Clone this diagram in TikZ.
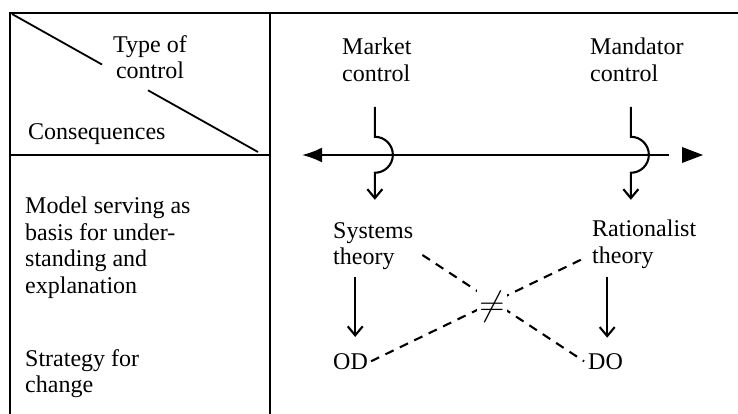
\documentclass[tikz,border=0pt]{standalone}
\usepackage{fontspec}
\setmainfont{Liberation Serif}
\usetikzlibrary{arrows.meta}
\begin{document}
\begin{tikzpicture}[x=1pt,y=1pt,
		rule/.style={line width=2.1pt},
		bump/.style={line width=2.1pt, -{Straight Barb[length=9pt,width=15pt,line width=2.1pt]}},
		down/.style={line width=2.1pt, -{Straight Barb[length=9pt,width=15pt,line width=2.1pt]}},
		cross/.style={line width=2.1pt, dash pattern=on 9pt off 7pt},
		label/.style={anchor=north west, align=left}]
		\tikzstyle{every node}=[font=\fontsize{24pt}{26.5pt}\selectfont, inner sep=0pt]
		\useasboundingbox (0,0) rectangle (738,-414);
		
		\draw[rule] (10,-414) -- (10,-13) -- (738,-13);
		\draw[rule] (270,-13) -- (270,-414);
		\draw[rule] (10,-155) -- (270,-155);
		\draw[line width=1.8pt] (12,-14) -- (102,-64.5);
		\draw[line width=1.8pt] (148,-90.3) -- (258,-152);
		
		\node[anchor=north, align=center] (typ) at (150,-35) {Type of\\control};
		\node[label] (conseq) at (28,-123) {Consequences};
		\node[label] (model) at (25,-197) {Model serving as\\basis for under-\\standing and\\explanation};
		\node[label] (strat) at (25,-349) {Strategy for\\change};
		
		\node[label] (market) at (342,-38) {Market\\control};
		\node[label] (mandat) at (590,-38) {Mandator\\control};
		\node[label] (sys) at (333,-222) {Systems\\theory};
		\node[label] (rat) at (592,-220) {Rationalist\\theory};
		\node[label] (od) at (333,-353) {OD};
		\node[label] (do) at (588,-353) {DO};
		
		\coordinate (lt) at (302,-155);
		\coordinate (rt) at (669,-155);
		\draw[line width=2.1pt, {Latex[length=20pt,width=15pt]}-] (lt) -- (rt);
		\fill (682,-147) -- (703,-155) -- (682,-163) -- cycle;
		
		\draw[bump] ([xshift=-2pt,yshift=-25pt]market.south) -- ++(0,-30) arc[start angle=90, end angle=-90, radius=18pt] -- ++(0,-27);
		\draw[bump] ([xshift=-6pt,yshift=-25pt]mandat.south) -- ++(0,-30) arc[start angle=90, end angle=-90, radius=18pt] -- ++(0,-27);
		
		\draw[down] ([xshift=-18pt,yshift=-7pt]sys.south) -- ++(0,-60);
		\draw[down] ([xshift=-37pt,yshift=-8pt]rat.south) -- ++(0,-61);
		
		\draw[cross] ([xshift=9pt,yshift=-9pt]sys.east) -- ([xshift=-4pt]do.west);
		\draw[cross] ([xshift=3pt]od.east) -- ([xshift=-9pt,yshift=10pt]rat.south west);
		\node[fill=white, inner sep=1.5pt, scale=1.4] (neq) at (492,-307) {$\neq$};
		
	\end{tikzpicture}
\end{document}
